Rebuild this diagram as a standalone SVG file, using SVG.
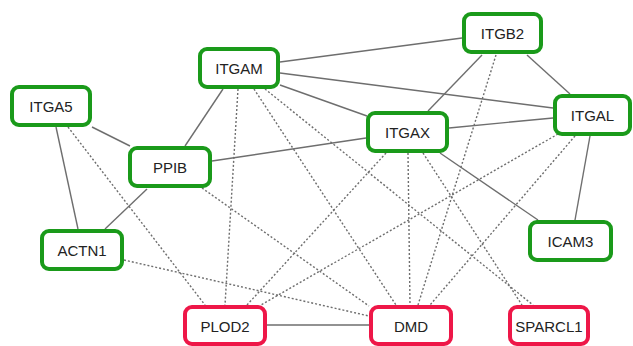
<svg xmlns="http://www.w3.org/2000/svg" width="633" height="346" viewBox="0 0 633 346">
<style>
.g rect{fill:#fff;stroke:#1a9a1a;stroke-width:4}
.r rect{fill:#fff;stroke:#ee1748;stroke-width:4}
text{font-family:"Liberation Sans",Arial,sans-serif;font-size:15px;fill:#222;text-anchor:middle;dominant-baseline:central}
.s{stroke:#6e6e6e;stroke-width:1.4;fill:none}
.d{stroke:#6e6e6e;stroke-width:1.4;fill:none;stroke-dasharray:2 2}
</style>
<rect width="633" height="346" fill="#fff"/>
<g id="connectors">
<line class="s" x1="280" y1="62" x2="462" y2="38"/>
<line class="s" x1="280" y1="73" x2="553" y2="108"/>
<line class="s" x1="280" y1="85" x2="367" y2="116"/>
<line class="s" x1="223" y1="89" x2="185" y2="146"/>
<line class="s" x1="92" y1="127" x2="130" y2="146"/>
<line class="s" x1="56" y1="127" x2="78" y2="229"/>
<line class="s" x1="147" y1="189" x2="105" y2="229"/>
<line class="s" x1="212" y1="161" x2="366" y2="138"/>
<line class="s" x1="482" y1="55" x2="428" y2="111"/>
<line class="s" x1="527" y1="55" x2="570" y2="94"/>
<line class="s" x1="449" y1="128" x2="553" y2="118"/>
<line class="s" x1="440" y1="153" x2="538" y2="220"/>
<line class="s" x1="590" y1="136" x2="575" y2="220"/>
<line class="s" x1="267" y1="325" x2="369" y2="325"/>
<line class="d" x1="68" y1="127" x2="205" y2="305"/>
<line class="d" x1="202" y1="188" x2="369" y2="306"/>
<line class="d" x1="124" y1="260" x2="369" y2="316"/>
<line class="d" x1="238" y1="89" x2="225" y2="305"/>
<line class="d" x1="254" y1="89" x2="396" y2="305"/>
<line class="d" x1="265" y1="89" x2="533" y2="305"/>
<line class="d" x1="386" y1="153" x2="247" y2="305"/>
<line class="d" x1="408" y1="153" x2="410" y2="305"/>
<line class="d" x1="423" y1="153" x2="522" y2="305"/>
<line class="d" x1="496" y1="55" x2="418" y2="305"/>
<line class="d" x1="558" y1="134" x2="261" y2="305"/>
<line class="d" x1="575" y1="136" x2="430" y2="305"/>
</g>
<g id="ITGA5" class="g"><rect x="12" y="87" width="78" height="38" rx="7"/><text x="51" y="106">ITGA5</text></g>
<g id="ITGAM" class="g"><rect x="200" y="49" width="78" height="38" rx="7"/><text x="239" y="68">ITGAM</text></g>
<g id="PPIB" class="g"><rect x="130" y="148" width="80" height="38" rx="7"/><text x="170" y="167">PPIB</text></g>
<g id="ITGB2" class="g"><rect x="464" y="14" width="77" height="38" rx="7"/><text x="502.5" y="33">ITGB2</text></g>
<g id="ITGAL" class="g"><rect x="555" y="96" width="75" height="38" rx="7"/><text x="592.5" y="115">ITGAL</text></g>
<g id="ITGAX" class="g"><rect x="368" y="113" width="79" height="38" rx="7"/><text x="407.5" y="132">ITGAX</text></g>
<g id="ACTN1" class="g"><rect x="42" y="231" width="80" height="38" rx="7"/><text x="82" y="250">ACTN1</text></g>
<g id="ICAM3" class="g"><rect x="530" y="222" width="81" height="38" rx="7"/><text x="570.5" y="241">ICAM3</text></g>
<g id="PLOD2" class="r"><rect x="185" y="307" width="80" height="37" rx="7"/><text x="225" y="326">PLOD2</text></g>
<g id="DMD" class="r"><rect x="371" y="307" width="80" height="37" rx="7"/><text x="411" y="326">DMD</text></g>
<g id="SPARCL1" class="r"><rect x="510" y="307" width="78" height="37" rx="7"/><text x="549" y="326">SPARCL1</text></g>
</svg>
